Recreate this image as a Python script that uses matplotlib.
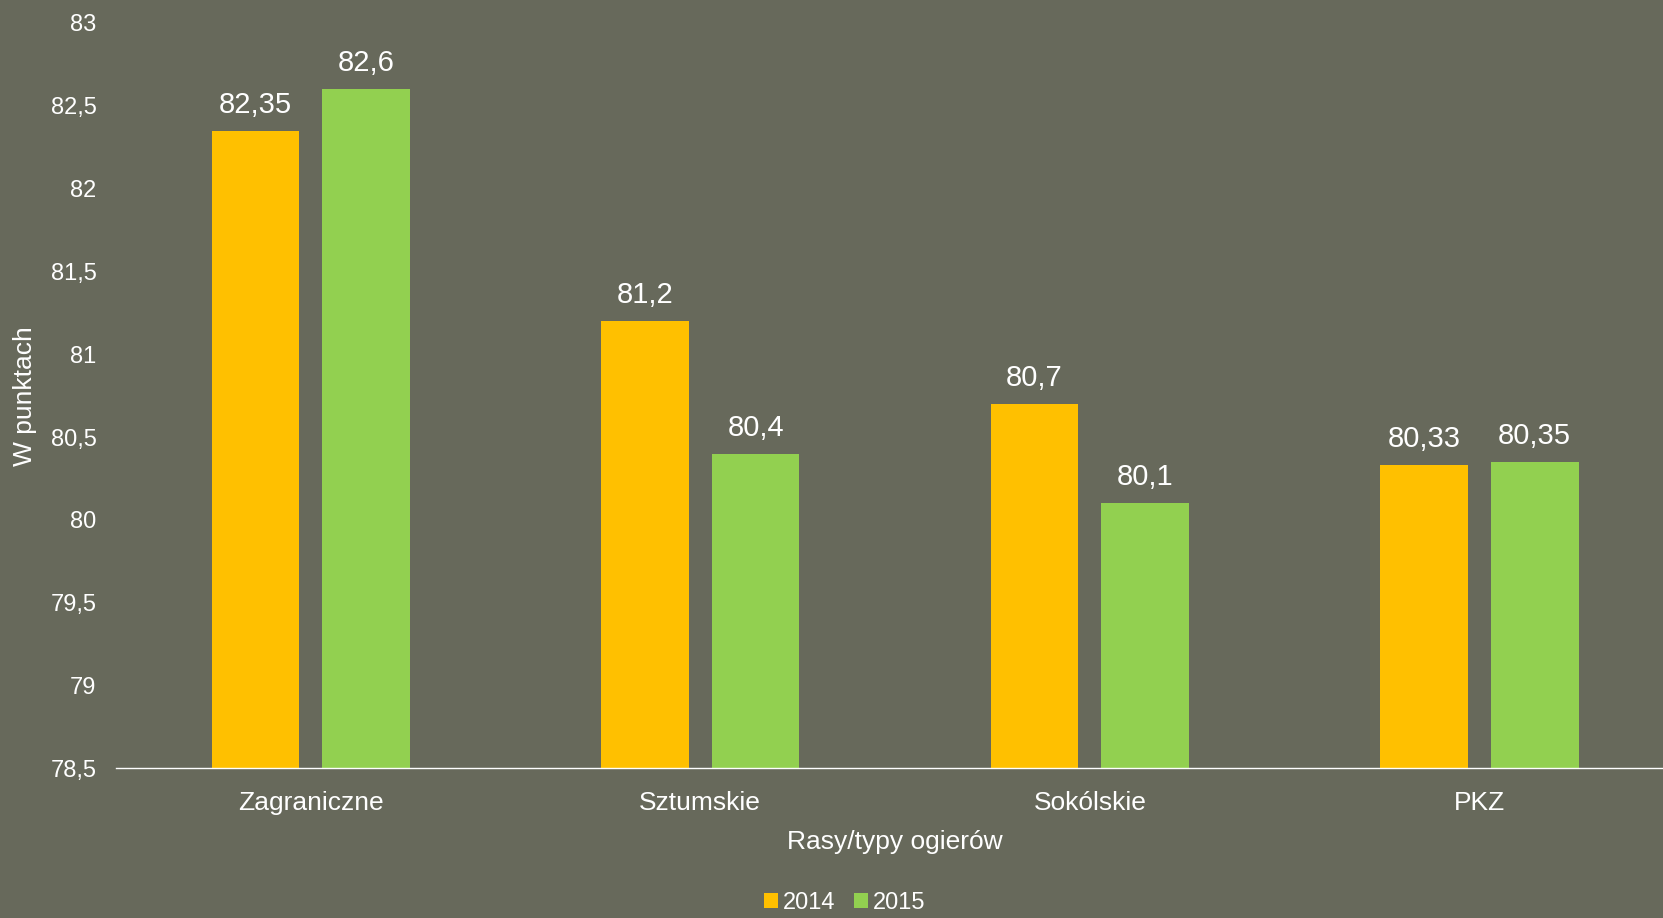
import numpy as np
import matplotlib.pyplot as plt

plt.rcParams['font.family'] = ['Liberation Sans', 'DejaVu Sans']

# dane
kategorie = ['Zagraniczne', 'Sztumskie', 'Sokólskie', 'PKZ']
rok_2014 = [82.35, 81.2, 80.7, 80.33]
rok_2015 = [82.6, 80.4, 80.1, 80.35]
etykiety_2014 = ['82,35', '81,2', '80,7', '80,33']
etykiety_2015 = ['82,6', '80,4', '80,1', '80,35']
yticks = [78.5, 79, 79.5, 80, 80.5, 81, 81.5, 82, 82.5, 83]
ytick_labels = ['78,5', '79', '79,5', '80', '80,5', '81', '81,5', '82', '82,5', '83']

tlo = '#67695b'
fig = plt.figure(figsize=(16.63, 9.18), dpi=100, facecolor=tlo)
# os wychodzi troche poza prawa krawedz, jak w oryginale
ax = fig.add_axes([0.0697, 0.163, 0.937, 0.812], facecolor=tlo)

x = np.arange(len(kategorie))
w = 0.225
b1 = ax.bar(x - 0.142, np.array(rok_2014) - 78.5, w, bottom=78.5, color='#ffc000', label='2014')
b2 = ax.bar(x + 0.142, np.array(rok_2015) - 78.5, w, bottom=78.5, color='#92d050', label='2015')

for bars, labs in ((b1, etykiety_2014), (b2, etykiety_2015)):
    for r, t in zip(bars, labs):
        ax.text(r.get_x() + r.get_width() / 2, r.get_y() + r.get_height() + 0.072, t,
                ha='center', va='bottom', color='white', fontsize=21)

ax.set_xlim(-0.5, len(kategorie) - 0.5)
ax.set_ylim(78.5, 83)
ax.set_yticks(yticks)
ax.set_yticklabels(ytick_labels)
ax.set_xticks(x)
ax.set_xticklabels(kategorie)
ax.tick_params(axis='y', length=0, colors='white', labelsize=17, pad=14)
ax.tick_params(axis='x', length=0, colors='white', labelsize=19, pad=16)
for s in ('top', 'right', 'left'):
    ax.spines[s].set_visible(False)
ax.spines['bottom'].set_color('white')
ax.spines['bottom'].set_linewidth(1)

ax.set_xlabel('Rasy/typy ogierów', color='white', fontsize=19, labelpad=11)
ax.set_ylabel('W punktach', color='white', fontsize=19, labelpad=10)

leg = fig.legend(loc='lower center', bbox_to_anchor=(0.508, -0.019), ncol=2, frameon=False,
                 fontsize=17, handlelength=0.6, handleheight=0.6, handletextpad=0.2,
                 columnspacing=0.8)
for t in leg.get_texts():
    t.set_color('white')

fig.savefig('out.png', dpi=100, facecolor=tlo)
